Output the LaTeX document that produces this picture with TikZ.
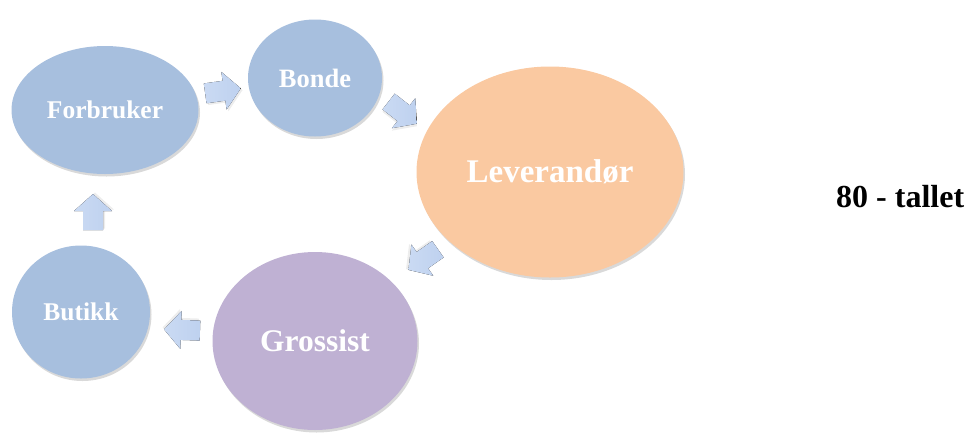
\documentclass[tikz,border=0pt]{standalone}
\usepackage{fontspec}
\setmainfont{Liberation Serif}
\usetikzlibrary{shapes.geometric,shadows}
\definecolor{cblue}{HTML}{A7BFDE}
\definecolor{corange}{HTML}{FAC9A1}
\definecolor{cpurple}{HTML}{BFB1D3}
\definecolor{carrow}{HTML}{CADAF3}
\definecolor{carrowdark}{HTML}{BED1EF}
\tikzset{
  blob/.style={ellipse, inner sep=0pt, text=white,
    drop shadow={shadow xshift=1.5pt, shadow yshift=-2.5pt, opacity=0.25, fill=black!60}},
  flowarrow/.pic={
    \fill[black, opacity=0.07] (-17,-10) ++(1.5,2) -- ++(19,0) -- ++(0,-9) -- ++(17,19) -- ++(-17,19) -- ++(0,-9) -- ++(-19,0) -- cycle;
    \fill[left color=carrow, right color=carrowdark] (-17,-10) -- (2,-10) -- (2,-19) -- (19,0) -- (2,19) -- (2,10) -- (-17,10) -- cycle;
  }
}
\begin{document}
\begin{tikzpicture}[x=1pt,y=-1pt]
\useasboundingbox (0,0) rectangle (967,432);
\node[blob, fill=cblue, minimum width=187, minimum height=128, font=\fontsize{25.5}{28}\selectfont\bfseries] (forbruker) at (105,110) {Forbruker};
\node[blob, fill=cblue, minimum width=134, minimum height=117, font=\fontsize{26.5}{30}\selectfont\bfseries] (bonde) at (315,78) {Bonde};
\node[blob, fill=corange, minimum width=267, minimum height=211, font=\fontsize{33}{38}\selectfont\bfseries] (leverandor) at (550,172) {Leverandør};
\node[blob, fill=cpurple, minimum width=205, minimum height=178, font=\fontsize{31.5}{36}\selectfont\bfseries] (grossist) at (315,341) {Grossist};
\node[blob, fill=cblue, minimum width=138, minimum height=133, font=\fontsize{25.5}{28}\selectfont\bfseries] (butikk) at (81,312) {Butikk};
\pic[rotate=8] (a1) at (222,91) {flowarrow};
\pic[rotate=-38] (a2) at (402,112) {flowarrow};
\pic[rotate=215] (a3) at (424,259) {flowarrow};
\pic[rotate=178] (a4) at (183,330) {flowarrow};
\pic[rotate=90] (a5) at (93,213) {flowarrow};
\node[font=\fontsize{32}{36}\selectfont\bfseries, text=black, anchor=base west, inner sep=0pt] (tallet) at (836,207) {80 - tallet};
\end{tikzpicture}
\end{document}
